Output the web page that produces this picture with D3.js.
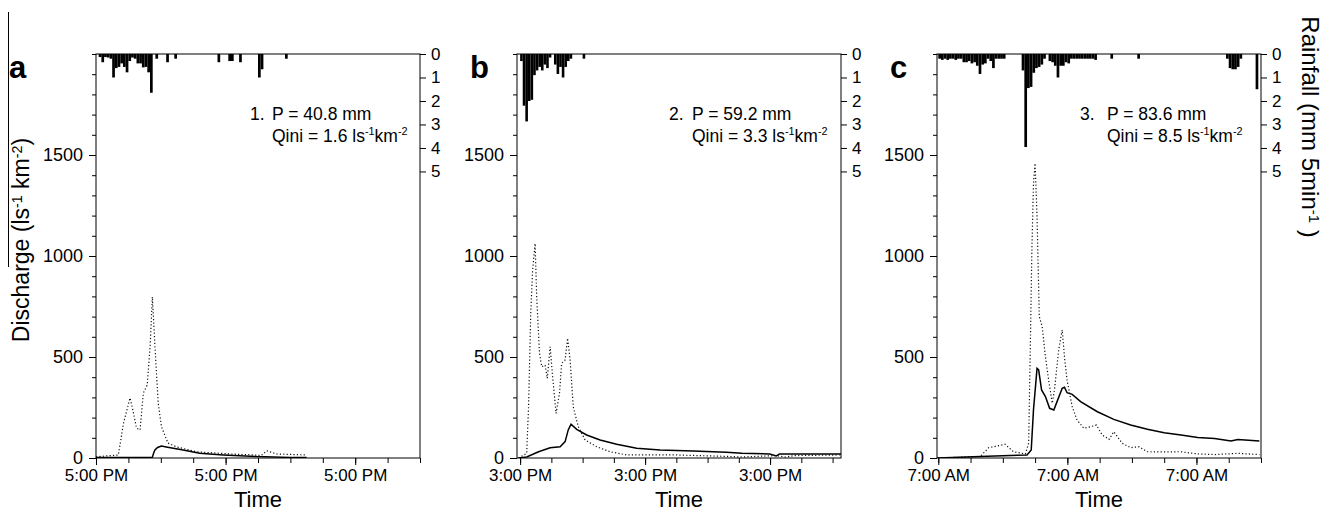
<!DOCTYPE html>
<html>
<head>
<meta charset="utf-8">
<script src="https://cdn.jsdelivr.net/npm/d3@7"></script>
<style>
  body { margin: 0; background: #fff; }
  svg { font-family: Arial, "Liberation Sans", sans-serif; }
</style>
</head>
<body>
<svg id="chart" width="1331" height="525"></svg>
<script>
// ---- data (time in tick units from first labelled tick, discharge in ls-1 km-2, rain in mm per 5 min) ----
const panelLetters = ["a", "b", "c"];
const stormP = ["40.8", "59.2", "83.6"];
const stormQini = ["1.6", "3.3", "8.5"];
const timeLabelsA = ["5:00 PM", "5:00 PM", "5:00 PM"];
const timeLabelsB = ["3:00 PM", "3:00 PM", "3:00 PM"];
const timeLabelsC = ["7:00 AM", "7:00 AM", "7:00 AM"];
const dischargeTicks = [0, 500, 1000, 1500];
const rainTicks = [0, 1, 2, 3, 4, 5];

// solid line
const qSolidA = [[0,2],[1.7,2],[1.74,4],[1.78,25],[1.82,40],[1.9,52],[2.02,59],[2.17,55],[2.69,40],[3.2,23],[3.93,15],[4.96,7],[5.99,3],[6.5,2]];
const qSolidB = [[-0.05,0],[0.21,5],[0.59,31],[0.96,51],[1.28,56],[1.44,81],[1.54,139],[1.63,167],[1.81,142],[2.13,114],[2.56,89],[3.09,68],[3.73,48],[4.48,40],[5.54,35],[6.6,28],[7.1,23],[7.99,20],[8.2,10],[8.3,20],[10.27,20]];
const qSolidC = [[-0.03,0],[1.3,7],[2.75,15],[2.88,40],[2.95,238],[3.06,444],[3.11,436],[3.2,337],[3.32,304],[3.45,246],[3.58,238],[3.68,279],[3.84,345],[3.91,350],[3.99,323],[4.15,315],[4.41,279],[4.93,229],[5.44,191],[5.96,163],[6.48,142],[7.0,125],[7.52,114],[8.04,102],[8.56,96],[9.07,84],[9.28,92],[9.95,84]];

// dotted line
const qDottedA = [[0,6],[0.69,15],[0.85,173],[1.05,297],[1.12,250],[1.18,204],[1.25,148],[1.36,139],[1.46,321],[1.58,361],[1.67,551],[1.74,798],[1.82,551],[1.92,272],[2.02,155],[2.22,74],[2.47,56],[3.09,31],[4.13,20],[4.9,15],[5.1,12],[5.27,36],[5.57,20],[6.5,15]];
const qDottedB = [[-0.05,0],[0.21,23],[0.27,254],[0.34,717],[0.4,930],[0.48,1062],[0.53,798],[0.62,519],[0.69,452],[0.8,460],[0.87,394],[0.96,551],[1.04,403],[1.15,221],[1.26,320],[1.33,469],[1.44,485],[1.52,593],[1.6,485],[1.7,254],[1.86,155],[2.08,89],[2.45,56],[2.88,31],[3.41,15],[5,15],[6.6,8],[7.1,5],[8.2,12],[8.5,5],[8.8,12],[10.23,15]];
const qDottedC = [[-0.03,0],[1.3,7],[1.56,51],[1.82,59],[2.07,68],[2.33,31],[2.7,20],[2.8,73],[2.85,535],[2.9,1030],[2.95,1360],[3.0,1459],[3.06,1195],[3.13,700],[3.22,650],[3.32,501],[3.42,386],[3.53,271],[3.6,337],[3.73,535],[3.84,634],[3.91,501],[3.99,386],[4.15,254],[4.3,188],[4.51,147],[4.72,155],[4.9,163],[5.08,114],[5.29,92],[5.44,130],[5.7,73],[5.96,51],[6.22,56],[6.48,31],[7.0,30],[7.5,31],[8.04,20],[8.56,17],[9.28,23],[9.95,17]];

// rainfall: [5-min interval index, mm]
const rainA = [[1,0.13],[2,0.35],[3,0.13],[4,0.15],[5,0.2],[6,1.0],[7,0.6],[8,0.55],[9,0.4],[10,0.55],[11,0.78],[12,0.3],[13,0.15],[14,0.2],[15,0.4],[16,0.4],[17,0.57],[18,0.55],[19,0.78],[20,1.65],[22,0.2],[26,0.35],[29,0.2],[45,0.35],[49,0.3],[50,0.3],[53,0.35],[60,1.0],[61,0.65],[70,0.2]];
const rainB = [[0,0.3],[1,2.2],[2,2.87],[3,2.0],[4,1.95],[5,0.9],[6,0.7],[7,0.55],[8,0.7],[9,0.45],[10,0.6],[11,0.15],[13,0.45],[14,0.85],[15,0.55],[16,1.0],[17,0.55],[18,0.3],[19,0.2],[24,0.2]];
const rainC = [[0,0.2],[1,0.25],[2,0.2],[3,0.25],[4,0.2],[5,0.2],[6,0.25],[7,0.2],[8,0.2],[9,0.35],[10,0.35],[11,0.3],[12,0.4],[13,0.35],[14,0.5],[15,0.85],[16,0.45],[17,0.4],[18,0.2],[19,0.3],[20,0.6],[21,0.2],[22,0.2],[23,0.2],[24,0.2],[31,0.7],[32,3.96],[33,1.45],[34,1.4],[35,0.8],[36,0.6],[37,0.55],[38,0.45],[39,0.2],[41,0.3],[42,0.35],[43,0.5],[44,1.0],[45,0.5],[46,0.5],[47,0.35],[48,0.4],[49,0.2],[50,0.2],[51,0.2],[52,0.2],[53,0.2],[54,0.2],[55,0.2],[56,0.2],[57,0.2],[58,0.25],[64,0.2],[74,0.2],[107,0.2],[108,0.6],[109,0.65],[110,0.65],[111,0.55],[112,0.2],[118,1.5]];

const solidSeries = [qSolidA, qSolidB, qSolidC];
const dottedSeries = [qDottedA, qDottedB, qDottedC];
const rainSeries = [rainA, rainB, rainC];
const timeLabels = [timeLabelsA, timeLabelsB, timeLabelsC];

// ---- layout ----
const TOP = 54;
const W = 324;
const H = 404;
const panelLeft = [96, 517, 937];
const letterX = [9, 470, 890];
const xDomains = [[0, 10], [-0.1, 10.27], [-0.04, 10]];
const numX = [154, 152, 143];
const textX = [176, 175, 170];

const svg = d3.select("#chart");

function supText(sel, parts) {
  // parts: array of [text, isSuper]
  parts.forEach(([t, sup], k) => {
    const prevSup = k > 0 && parts[k - 1][1];
    const ts = sel.append("tspan").text(t);
    if (sup) ts.attr("dy", -7).attr("font-size", "0.62em");
    else if (prevSup) ts.attr("dy", 7);
  });
}

function drawPanel(i) {
  const g = svg.append("g").attr("transform", `translate(${panelLeft[i]},${TOP})`);

  const x = d3.scaleLinear().domain(xDomains[i]).range([0, W]);
  const y = d3.scaleLinear().domain([0, 2000]).range([H, 0]);
  const yr = d3.scaleLinear().domain([0, 17.2]).range([0, H]);

  g.append("clipPath").attr("id", "clip" + i)
    .append("rect").attr("width", W).attr("height", H);
  const plot = g.append("g").attr("clip-path", `url(#clip${i})`);

  // rainfall bars hanging from the top
  plot.selectAll("rect.rain")
    .data(rainSeries[i])
    .join("rect")
    .attr("class", "rain")
    .attr("x", (d) => x(d[0] / 12))
    .attr("y", 0)
    .attr("width", (d) => x((d[0] + 1) / 12) - x(d[0] / 12))
    .attr("height", (d) => yr(d[1]))
    .attr("fill", "#000");

  const line = d3.line().x((d) => x(d[0])).y((d) => y(d[1]));

  plot.append("path")
    .datum(dottedSeries[i])
    .attr("d", line)
    .attr("fill", "none")
    .attr("stroke", "#111")
    .attr("stroke-width", 1.2)
    .attr("stroke-dasharray", "1.2,2.2");

  plot.append("path")
    .datum(solidSeries[i])
    .attr("d", line)
    .attr("fill", "none")
    .attr("stroke", "#000")
    .attr("stroke-width", 1.5);

  // frame
  g.append("rect")
    .attr("width", W)
    .attr("height", H)
    .attr("fill", "none")
    .attr("stroke", "#000")
    .attr("stroke-width", 1);

  // bottom axis: minor + major ticks
  const xMinor = g.append("g").attr("transform", `translate(0,${H})`)
    .call(d3.axisBottom(x).tickValues(d3.range(0, 11)).tickSize(5).tickSizeOuter(0).tickFormat(""));
  const xMajor = g.append("g").attr("transform", `translate(0,${H})`)
    .call(d3.axisBottom(x).tickValues([0, 4, 8]).tickSize(7).tickPadding(4).tickSizeOuter(0)
      .tickFormat((d, k) => timeLabels[i][k]));

  // left axis
  const yMinor = g.append("g")
    .call(d3.axisLeft(y).tickValues(d3.range(0, 2001, 100)).tickSize(4).tickSizeOuter(0).tickFormat(""));
  const yMajor = g.append("g")
    .call(d3.axisLeft(y).tickValues(dischargeTicks).tickSize(7).tickPadding(6).tickSizeOuter(0)
      .tickFormat(d3.format("d")));

  // right rainfall axis
  const yRight = g.append("g").attr("transform", `translate(${W},0)`)
    .call(d3.axisRight(yr).tickValues(rainTicks).tickSize(6).tickPadding(5).tickSizeOuter(0)
      .tickFormat(d3.format("d")));

  [xMinor, xMajor, yMinor, yMajor, yRight].forEach((a) => {
    a.select(".domain").remove();
    a.attr("font-family", null).attr("font-size", null);
    a.selectAll("line").attr("stroke", "#000");
  });
  xMajor.selectAll("text").attr("font-size", 17).attr("fill", "#000");
  yMajor.selectAll("text").attr("font-size", 18).attr("fill", "#000");
  yRight.selectAll("text").attr("font-size", 17).attr("fill", "#000");

  // axis title
  g.append("text")
    .attr("x", W / 2)
    .attr("y", 453)
    .attr("text-anchor", "middle")
    .attr("font-size", 22)
    .text("Time");

  // panel letter
  svg.append("text")
    .attr("x", letterX[i])
    .attr("y", 78)
    .attr("font-size", 31)
    .attr("font-weight", "bold")
    .text(panelLetters[i]);

  // storm annotation
  g.append("text").attr("x", numX[i]).attr("y", 66).attr("font-size", 17.5).text(`${i + 1}.`);
  g.append("text").attr("x", textX[i]).attr("y", 66).attr("font-size", 17.5).text(`P = ${stormP[i]} mm`);
  const q = g.append("text").attr("x", textX[i]).attr("y", 88).attr("font-size", 17.5);
  supText(q, [[`Qini = ${stormQini[i]} ls`, false], ["-1", true], ["km", false], ["-2", true]]);
}

[0, 1, 2].forEach(drawPanel);

// left axis title
const yTitle = svg.append("text")
  .attr("transform", "translate(29,240) rotate(-90)")
  .attr("text-anchor", "middle")
  .attr("font-size", 23);
supText(yTitle, [["Discharge (ls", false], ["-1", true], [" km", false], ["-2", true], [")", false]]);

// right axis title
const rTitle = svg.append("text")
  .attr("transform", "translate(1302,127) rotate(90)")
  .attr("text-anchor", "middle")
  .attr("font-size", 24);
supText(rTitle, [["Rainfall (mm 5min", false], ["-1", true], [" )", false]]);

// stray rule at the left edge of the figure
svg.append("line")
  .attr("x1", 8.5).attr("x2", 8.5)
  .attr("y1", 12).attr("y2", 267)
  .attr("stroke", "#000")
  .attr("stroke-width", 1);
</script>
</body>
</html>
